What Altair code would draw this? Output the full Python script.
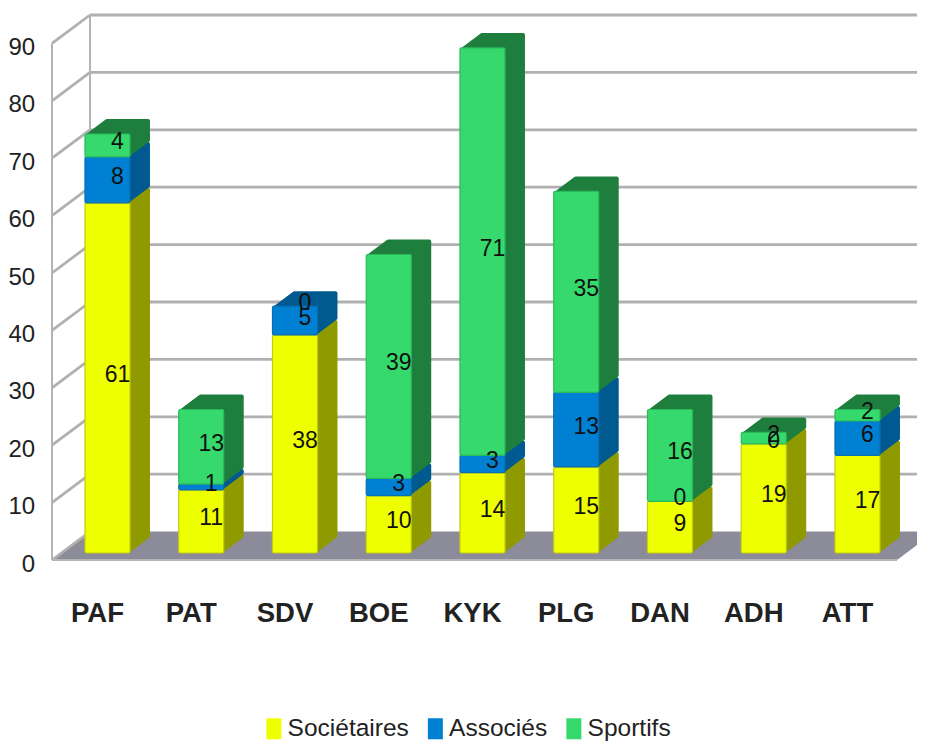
import altair as alt
import pandas as pd

categories = ["PAF", "PAT", "SDV", "BOE", "KYK", "PLG", "DAN", "ADH", "ATT"]
societaires = [61, 11, 38, 10, 14, 15, 9, 19, 17]
associes = [8, 1, 5, 3, 3, 13, 0, 0, 6]
sportifs = [4, 13, 0, 39, 71, 35, 16, 2, 2]
series_names = ["Sociétaires", "Associés", "Sportifs"]
front_colors = ["#eeff00", "#0080d2", "#36d96c"]
dark_colors = ["#8f9a00", "#005a90", "#1f7f3e"]
edge_colors = ["#c4cc10", "#0a6fb0", "#2cb95c"]
y_ticks = [0, 10, 20, 30, 40, 50, 60, 70, 80, 90]

rows = []
for i, c in enumerate(categories):
    base = 0
    for name, vals, dark in zip(series_names, [societaires, associes, sportifs], dark_colors):
        v = vals[i]
        rows.append({"cat": c, "series": name, "value": v, "low": base, "high": base + v,
                     "mid": base + v / 2, "dark": dark})
        base += v
df = pd.DataFrame(rows)

FONT = "Liberation Sans"
L, T = 60.6, 36.4
W, H = 843.75, 516.6
UNIT = H / 90
DX, DY = 20, 15

yscale = alt.Scale(domain=[0, 90], nice=False, zero=False)
band = alt.Scale(domain=categories, paddingInner=0.52, paddingOuter=0.26)
pix = alt.Scale(domain=[L, L + W], nice=False, zero=False)
yaxis = alt.Axis(values=y_ticks, title=None, grid=False, domain=False, ticks=False, labelFont=FONT,
                 labelFontSize=24, labelColor="#222222", labelPadding=26, labelOffset=11)

FRONT = 7 / UNIT       # front edge of floor below the bars' base, in value units
BACK = 21.4 / UNIT     # back wall above the bars' base, in value units

floor = pd.DataFrame({
    "px": [52, 90, 897, 935],
    "top": [-FRONT, BACK, BACK, BACK],
    "bot": [-FRONT, -FRONT, -FRONT, BACK],
})
floor_layer = alt.Chart(floor).mark_area(color="#8c8b99", interpolate="linear").encode(
    x=alt.X("px:Q", scale=pix, axis=None),
    y=alt.Y("top:Q", scale=yscale, axis=yaxis),
    y2="bot:Q",
)

wall_rows = []
for v in y_ticks:
    wall_rows.append({"g": f"o{v}", "px": 52, "v": v - FRONT})
    wall_rows.append({"g": f"o{v}", "px": 90, "v": v + BACK})
    if v > 0:
        wall_rows.append({"g": f"h{v}", "px": 90, "v": v + BACK})
        wall_rows.append({"g": f"h{v}", "px": 935, "v": v + BACK})
walls = pd.DataFrame(wall_rows)
wall_layer = alt.Chart(walls).mark_line(color="#b0b0b0", strokeWidth=2.8).encode(
    x=alt.X("px:Q", scale=pix, axis=None),
    y=alt.Y("v:Q", scale=yscale, axis=yaxis),
    detail="g:N",
)
posts = pd.DataFrame([
    {"g": "back", "px": 90, "v": 90 + BACK},
    {"g": "back", "px": 90, "v": BACK},
    {"g": "front", "px": 52, "v": 90 - FRONT},
    {"g": "front", "px": 52, "v": -FRONT},
    {"g": "sill", "px": 52, "v": -FRONT},
    {"g": "sill", "px": 897, "v": -FRONT},
])
post_layer = alt.Chart(posts).mark_line(color="#b4b4b4", strokeWidth=2).encode(
    x=alt.X("px:Q", scale=pix, axis=None),
    y=alt.Y("v:Q", scale=yscale, axis=yaxis),
    detail="g:N",
)

layers = [floor_layer, wall_layer, post_layer]

for k in range(DX, 0, -1):
    off = -k * DY / DX
    layers.append(
        alt.Chart(df[df.value > 0]).mark_bar(xOffset=k, yOffset=off, y2Offset=off, cornerRadius=2).encode(
            x=alt.X("cat:N", scale=band, axis=None),
            y=alt.Y("low:Q", scale=yscale, axis=yaxis),
            y2="high:Q",
            fill=alt.Fill("dark:N", scale=None),
        )
    )

front = alt.Chart(df[df.value > 0]).mark_bar(cornerRadius=1.5, strokeWidth=1.2).encode(
    x=alt.X("cat:N", scale=band, title=None, sort=categories,
            axis=alt.Axis(domain=False, ticks=False, labelFont=FONT, labelFontWeight="bold",
                          labelFontSize=27.5, labelColor="#222222", labelPadding=46, labelOffset=-10,
                          labelAngle=0)),
    y=alt.Y("low:Q", scale=yscale, axis=yaxis),
    y2="high:Q",
    color=alt.Color("series:N", title=None,
                    scale=alt.Scale(domain=series_names, range=front_colors),
                    legend=alt.Legend(orient="none", direction="horizontal", legendX=201, legendY=680,
                                      labelFont=FONT, labelFontSize=24.5, labelColor="#222222",
                                      symbolType="M-0.75,-1.05H0.75V1.05H-0.75Z", symbolSize=400,
                                      symbolStrokeWidth=0, columnPadding=13.5, labelOffset=1.5,
                                      labelLimit=300)),
    stroke=alt.Stroke("series:N", scale=alt.Scale(domain=series_names, range=edge_colors), legend=None),
)
layers.append(front)

labels = alt.Chart(df).mark_text(dx=10, dy=-3, font=FONT, fontSize=23, color="#111111").encode(
    x=alt.X("cat:N", scale=band, axis=None),
    y=alt.Y("mid:Q", scale=yscale, axis=yaxis),
    text="value:Q",
)
layers.append(labels)

chart = alt.layer(*layers).resolve_scale(x="independent").properties(
    width=W, height=H, autosize="none",
    padding={"left": L - 8, "top": T - 8, "right": 917 - L - W, "bottom": 741 - T - H},
).configure_view(stroke=None)

chart.save("out.html", embed_options={"renderer": "svg", "actions": False})
